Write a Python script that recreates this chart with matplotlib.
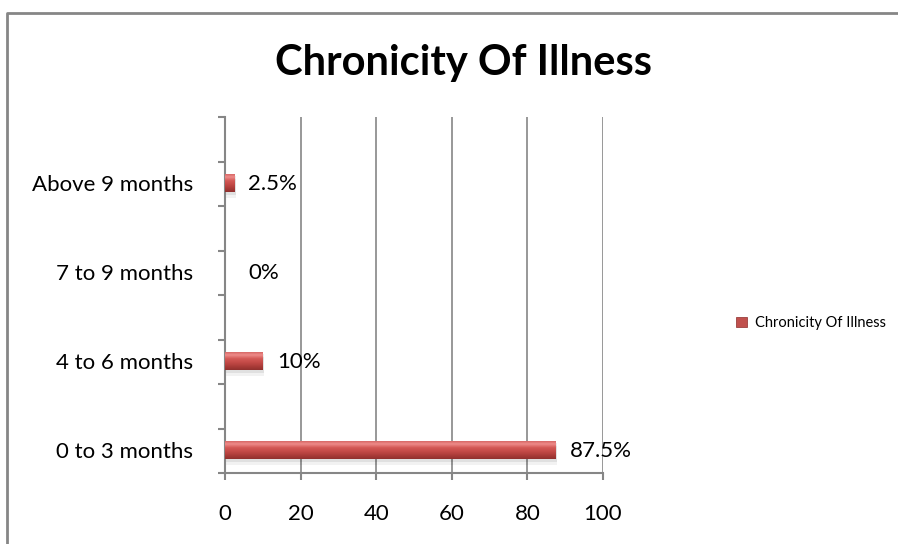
import matplotlib.pyplot as plt
import numpy as np
from matplotlib.colors import LinearSegmentedColormap
from matplotlib.patches import Patch
from matplotlib.lines import Line2D

plt.rcParams['font.family'] = ['Lato', 'DejaVu Sans']

# chart data
categories = ["0 to 3 months", "4 to 6 months", "7 to 9 months", "Above 9 months"]
percent = [87.5, 10, 0, 2.5]
value_labels = ["87.5%", "10%", "0%", "2.5%"]
series_name = "Chronicity Of Illness"
x_ticks = [0, 20, 40, 60, 80, 100]

GRID = "#868686"
RED = "#C0504D"
bar_shade = LinearSegmentedColormap.from_list(
    "bar_shade", ["#90302E", "#AC3C39", "#C44A47", "#D35956", "#EE8C8A", "#CF5C5A"])


def main():
    fig = plt.figure(figsize=(8.98, 5.44), dpi=100)
    ax = fig.add_axes([0.2506, 0.1305, 0.4209, 0.6544])

    pos = np.arange(len(categories)) - 0.24
    height = 0.21

    # soft drop shadow under each bar
    for off, a in ((0.03, 0.07), (0.06, 0.05)):
        ax.barh(pos - off, [v + 0.4 if v else 0 for v in percent], height=height,
                left=0, color="#000000", alpha=a, zorder=2, linewidth=0)
    bars = ax.barh(pos, percent, height=height, color=RED, zorder=3, linewidth=0)

    # vertical shading across each bar, clipped to the bar shape
    grad = np.linspace(0, 1, 64).reshape(-1, 1)
    for rect in bars:
        if rect.get_width() <= 0:
            continue
        x0, y0 = rect.get_x(), rect.get_y()
        im = ax.imshow(grad, extent=(x0, x0 + rect.get_width(), y0, y0 + rect.get_height()),
                       origin="lower", cmap=bar_shade, aspect="auto", zorder=4)
        im.set_clip_path(rect)

    for y, v, lab in zip(pos, percent, value_labels):
        dx = 10 if v else 17
        ax.annotate(lab, (v, y), xytext=(dx, -1), textcoords="offset points",
                    va="center", ha="left", fontsize=16, color="black")

    ax.set_xlim(0, 100)
    ax.set_ylim(-0.5, len(categories) - 0.5)
    ax.set_xticks(x_ticks)
    ax.set_xticklabels([str(t) for t in x_ticks], fontsize=16)
    ax.set_yticks(pos)
    ax.set_yticklabels(categories, fontsize=16)
    ax.set_yticks(np.arange(-0.5, len(categories), 0.5), minor=True)

    ax.tick_params(axis="y", which="major", length=0, pad=23)
    ax.tick_params(axis="y", which="minor", length=5, width=1.5, color=GRID, direction="out")
    ax.tick_params(axis="x", length=5, width=1.5, color=GRID, pad=17)

    ax.grid(axis="x", color=GRID, linewidth=1.2, zorder=0)
    ax.set_axisbelow(True)
    for side in ("top", "right"):
        ax.spines[side].set_visible(False)
    for side in ("left", "bottom"):
        ax.spines[side].set_color(GRID)
        ax.spines[side].set_linewidth(1.5)

    fig.text(0.516, 0.884, "Chronicity Of Illness", ha="center", va="center",
             fontsize=30, fontweight="bold")

    handle = Patch(facecolor=RED, edgecolor="#8C2B29", linewidth=0.5)
    fig.legend([handle], [series_name], loc="center left", bbox_to_anchor=(0.812, 0.406),
               frameon=False, fontsize=10.5, handlelength=0.75, handleheight=0.75,
               handletextpad=0.5, borderpad=0)

    # chart area outline
    fig.add_artist(Line2D([0.008, 0.008, 1.0], [0.0, 0.976, 0.976],
                          transform=fig.transFigure, color=GRID, linewidth=2))

    fig.savefig("out.png", dpi=100)


if __name__ == "__main__":
    main()
